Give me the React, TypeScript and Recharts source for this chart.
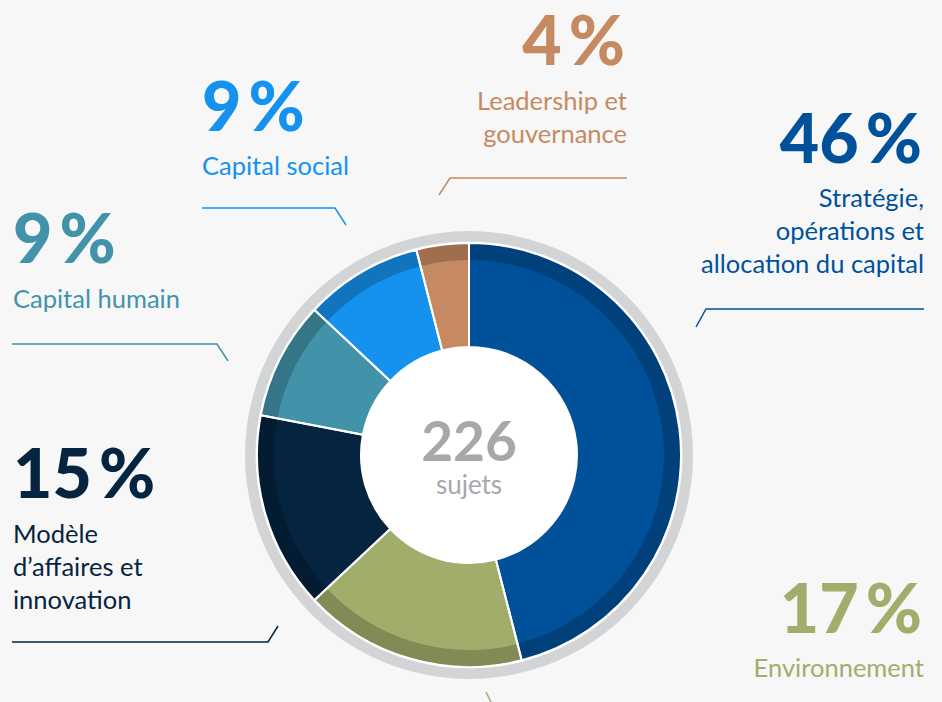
import { PieChart, Pie, Cell } from "recharts";

// data, clockwise from 12 o'clock
const categories = [
  "Stratégie, opérations et allocation du capital",
  "Environnement",
  "Modèle d’affaires et innovation",
  "Capital humain",
  "Capital social",
  "Leadership et gouvernance",
];
const shares = [46, 17, 15, 9, 9, 4];
const labelLines = [
  ["Stratégie,", "opérations et", "allocation du capital"],
  ["Environnement"],
  ["Modèle", "d’affaires et", "innovation"],
  ["Capital humain"],
  ["Capital social"],
  ["Leadership et", "gouvernance"],
];
const totalSubjects = 226;

const COLORS = ["#00519a", "#a1ae6b", "#05243f", "#4293aa", "#1592ee", "#c68a62"];

// annotation placement (x, baseline of the big number, anchor, leader line)
const LAYOUT = [
  { x: 922, y: 163, anchor: "end", textY: 207, line: "696,327 706,309 924,309" },
  { x: 922, y: 633, anchor: "end", textY: 677, line: "486,692 492,704" },
  { x: 13, y: 498, anchor: "start", textY: 543, line: "12,642 268,642 278,626" },
  { x: 13, y: 263, anchor: "start", textY: 308, line: "12,344 217,344 228,361" },
  { x: 202, y: 131, anchor: "start", textY: 175, line: "202,208 335,208 346,225" },
  { x: 625, y: 65, anchor: "end", textY: 110, line: "439,195 450,178 627,178" },
];

const W = 942;
const H = 702;
const CX = 469;
const CY = 455;
const FONT = "Lato, 'Open Sans', sans-serif";
const MARGIN = { top: 0, right: 0, bottom: 0, left: 0 };

const data = categories.map((name, i) => ({ name, value: shares[i] }));
const ring = [{ name: "ring", value: 1 }];

function Annotations() {
  return (
    <svg
      width={W}
      height={H}
      style={{ position: "absolute", left: 0, top: 0, pointerEvents: "none" }}
      fontFamily={FONT}
    >
      {data.map((d, i) => {
        const l = LAYOUT[i];
        const tx = l.anchor === "end" ? l.x + 2 : l.x;
        return (
          <g key={d.name}>
            <text
              x={l.x}
              y={l.y}
              textAnchor={l.anchor as "start" | "end"}
              fontSize={68}
              fontWeight={900}
              fill={COLORS[i]}
            >
              <tspan>{d.value}</tspan>
              <tspan dx={7}>%</tspan>
            </text>
            {labelLines[i].map((t, j) => (
              <text
                key={t}
                x={tx}
                y={l.textY + j * 33}
                textAnchor={l.anchor as "start" | "end"}
                fontSize={25.5}
                fill={COLORS[i]}
              >
                {t}
              </text>
            ))}
            <polyline points={l.line} fill="none" stroke={COLORS[i]} strokeWidth={1.5} />
          </g>
        );
      })}
      <text x={CX} y={461} textAnchor="middle" fontSize={55} fontWeight={700} fill="#a7a8ab">
        {totalSubjects}
      </text>
      <text x={CX} y={494} textAnchor="middle" fontSize={26} fill="#a7a8ab">
        sujets
      </text>
    </svg>
  );
}

export default function App() {
  return (
    <div
      style={{
        position: "absolute",
        left: 0,
        top: 0,
        width: W,
        height: H,
        background: "#f7f7f7",
        overflow: "hidden",
      }}
    >
      <PieChart width={W} height={H} margin={MARGIN}>
        <Pie
          data={ring}
          dataKey="value"
          cx={CX}
          cy={CY}
          innerRadius={213.5}
          outerRadius={224}
          startAngle={90}
          endAngle={-270}
          fill="#d3d4d6"
          stroke="none"
          isAnimationActive={false}
        />
        <Pie
          data={ring}
          dataKey="value"
          cx={CX}
          cy={CY}
          innerRadius={0}
          outerRadius={109}
          startAngle={90}
          endAngle={-270}
          fill="#ffffff"
          stroke="none"
          isAnimationActive={false}
        />
        <Pie
          data={data}
          dataKey="value"
          cx={CX}
          cy={CY}
          innerRadius={108}
          outerRadius={212}
          startAngle={90}
          endAngle={-270}
          stroke="none"
          isAnimationActive={false}
        >
          {data.map((d, i) => (
            <Cell key={d.name} fill={COLORS[i]} />
          ))}
        </Pie>
        <Pie
          data={data}
          dataKey="value"
          cx={CX}
          cy={CY}
          innerRadius={195}
          outerRadius={212}
          startAngle={90}
          endAngle={-270}
          stroke="none"
          isAnimationActive={false}
        >
          {data.map((d) => (
            <Cell key={d.name} fill="#000" fillOpacity={0.2} />
          ))}
        </Pie>
        <Pie
          data={data}
          dataKey="value"
          cx={CX}
          cy={CY}
          innerRadius={108}
          outerRadius={212}
          startAngle={90}
          endAngle={-270}
          fill="transparent"
          stroke="#ffffff"
          strokeWidth={2}
          isAnimationActive={false}
        />
      </PieChart>
      <Annotations />
    </div>
  );
}
